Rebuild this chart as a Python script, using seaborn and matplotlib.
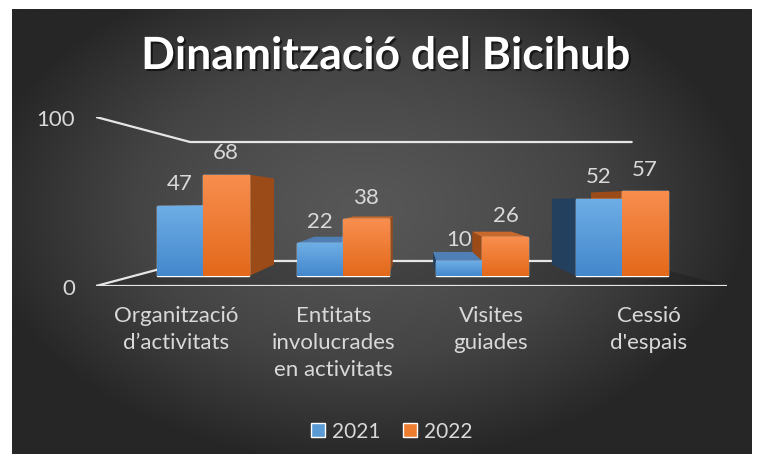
import matplotlib.pyplot as plt
import matplotlib.patheffects as pe
import numpy as np
import pandas as pd
import seaborn as sns
from matplotlib.colors import LinearSegmentedColormap
from matplotlib.patches import Patch, Polygon
from matplotlib.transforms import blended_transform_factory

# --- data ---
categories = ['Organització\nd’activitats', 'Entitats\ninvolucrades\nen activitats',
              'Visites\nguiades', "Cessió\nd'espais"]
years = ['2021', '2022']
values_2021 = [47, 22, 10, 52]
values_2022 = [68, 38, 26, 57]
y_ticks = [0, 100]
title = 'Dinamització del Bicihub'

# --- style ---
BLUE, BLUE_TOP, BLUE_BOTTOM = '#5b9bd5', '#6eaee6', '#4488cc'
ORANGE, ORANGE_TOP, ORANGE_BOTTOM = '#ed7d31', '#f88e4e', '#e3691b'
SIDE = {'2021': '#23405f', '2022': '#9b4b17'}
TOP = {'2021': '#4f7fb5', '2022': '#c8682a'}
TEXT = '#d9d9d9'
LINE = '#e6e6e6'
FONT = 'Lato'
FS = 16

# fake 3d: vanishing point (display px) and depth scale of the back face
VX, VY, DEPTH = 415, 263, 0.85
LABEL_SPREAD = 1.127

df = pd.DataFrame({
    'categoria': categories * 2,
    'any': [years[0]] * 4 + [years[1]] * 4,
    'valor': values_2021 + values_2022,
})

sns.set_style('dark')
plt.rcParams['font.family'] = [FONT, 'DejaVu Sans']

fig = plt.figure(figsize=(7.58, 4.64), dpi=100, facecolor='white')

# radial dark background
bg = fig.add_axes([12 / 758, 9 / 464, 740 / 758, 445 / 464])
yy, xx = np.mgrid[-1:1:300j, -1:1:500j]
r = np.clip(np.sqrt(((xx + 0.05) / 1.05) ** 2 + ((yy + 0.1) / 1.15) ** 2), 0, 1)
bg_cmap = LinearSegmentedColormap.from_list('bg', ['#575757', '#444444', '#262626'])
bg.imshow(r ** 1.3, cmap=bg_cmap, aspect='auto', extent=[0, 1, 0, 1], vmin=0, vmax=1)
bg.set_axis_off()

box = [96 / 758, (464 - 287) / 464, 631 / 758, 169 / 464]

# frame axes: floor and back wall outline, value ticks
fr = fig.add_axes(box)
fr.set_facecolor('none')
fr.set_xlim(0, 1)
fr.set_ylim(0, 100)
inset_l, inset_r, floor_back, wall_top = 0.149, 0.849, 14.8, 85.2
fr.add_patch(Polygon([(0, 0), (1, 0), (inset_r, floor_back), (inset_l, floor_back)],
                     closed=True, facecolor='black', alpha=0.18, lw=0))
fr.plot([0, 1], [0, 0], color=LINE, lw=1.6, solid_capstyle='butt')
fr.plot([0, inset_l, inset_r], [0, floor_back, floor_back], color=LINE, lw=1.6)
fr.plot([0, inset_l, inset_r], [100, wall_top, wall_top], color=LINE, lw=1.6)
fr.set_yticks(y_ticks)
fr.set_xticks([])
fr.tick_params(axis='y', length=0, pad=15, labelsize=FS, labelcolor=TEXT)
for s in fr.spines.values():
    s.set_visible(False)
fr.grid(False)

# bar axes
ax = fig.add_axes(box)
ax.set_facecolor('none')
sns.barplot(data=df, x='categoria', y='valor', hue='any', palette=[BLUE, ORANGE],
            width=0.66, saturation=1, legend=False, ax=ax)
ax.set_xlim(-0.766, 3.751)
ax.set_ylim(-6.71, 106.7)
ax.set_xlabel('')
ax.set_ylabel('')
ax.set_xticks([])
ax.set_yticks([])
ax.grid(False)
for s in ax.spines.values():
    s.set_visible(False)

to_data = ax.transData.inverted()


def back(p):
    return (VX + DEPTH * (p[0] - VX), VY + DEPTH * (p[1] - VY))


def face(points, color, z):
    pts = to_data.transform(points)
    ax.add_patch(Polygon(pts, closed=True, facecolor=color, edgecolor='none', zorder=z))


grads = {'2021': (BLUE_BOTTOM, BLUE_TOP), '2022': (ORANGE_BOTTOM, ORANGE_TOP)}
for year, container in zip(years, ax.containers):
    cmap = LinearSegmentedColormap.from_list(year, grads[year])
    for bar in container:
        x, w, h = bar.get_x(), bar.get_width(), bar.get_height()
        (x0, y0), (x1, y1) = ax.transData.transform([(x, 0), (x + w, h)])
        bx0, by0 = back((x0, y0))
        bx1, by1 = back((x1, y1))
        if x1 < VX:
            face([(x1, y0), (x1, y1), (bx1, by1), (bx1, by0)], SIDE[year], 1)
        if x0 > VX:
            face([(x0, y0), (x0, y1), (bx0, by1), (bx0, by0)], SIDE[year], 1)
        if y1 < VY:
            face([(x0, y1), (x1, y1), (bx1, by1), (bx0, by1)], TOP[year], 1.5)
        bar.set_zorder(2)
        im = ax.imshow(np.linspace(0, 1, 64).reshape(-1, 1), cmap=cmap, origin='lower',
                       extent=[x, x + w, 0, h], aspect='auto', zorder=2.1)
        im.set_clip_path(bar)

ax.set_xlim(-0.766, 3.751)
ax.set_ylim(-6.71, 106.7)

for container in ax.containers:
    ax.bar_label(container, padding=9, fontsize=FS, color=TEXT)

# category labels, spread out to the front edge of the floor
lab_tr = blended_transform_factory(ax.transData, ax.transAxes)
for i, cat in enumerate(categories):
    px = ax.transData.transform((i, 0))[0]
    xd = to_data.transform((VX + LABEL_SPREAD * (px - VX), 0))[0]
    ax.text(xd, -0.115, cat, transform=lab_tr, ha='center', va='top',
            fontsize=FS, color=TEXT, linespacing=1.42)

fig.text(386 / 758, 1 - 57 / 464, title, ha='center', va='center', fontsize=32,
         fontweight='bold', color='white',
         path_effects=[pe.withSimplePatchShadow(offset=(1.5, -1.5), shadow_rgbFace='black', alpha=0.6)])

handles = [Patch(facecolor=BLUE), Patch(facecolor=ORANGE)]
fig.legend(handles, years, loc='center', bbox_to_anchor=(392 / 758, 1 - 432 / 464), ncol=2,
           frameon=False, fontsize=15, labelcolor=TEXT, handlelength=0.65, handleheight=0.65,
           handletextpad=0.35, columnspacing=1.1)

fig.savefig('out.png', dpi=100, facecolor='white')
